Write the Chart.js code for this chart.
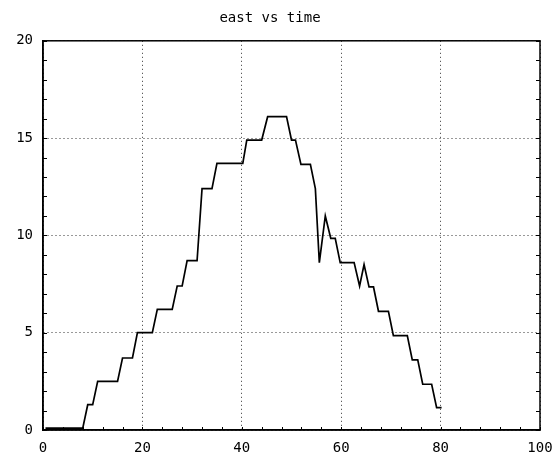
<!DOCTYPE html>
<html>
<head>
<meta charset="utf-8">
<script src="https://cdn.jsdelivr.net/npm/chart.js@4/dist/chart.umd.min.js"></script>
<style>
  html, body { margin: 0; padding: 0; background: #fff; }
  #wrap { width: 554px; height: 464px; }
</style>
</head>
<body>
<div id="wrap"><canvas id="myChart"></canvas></div>
<script>
const chartTitle = "east vs time";

// time values (x) and east values (y)
const timeValues = [
  0.5, 8, 9, 10, 11, 15, 16, 18, 19, 22, 23, 26, 27, 28, 29, 31, 32, 34, 35, 40.2,
  41, 44, 45.2, 49, 50, 50.8, 51.9, 53.8, 54.8, 55.6, 56.8, 57.9, 58.8, 59.8, 62.6,
  63.7, 64.6, 65.6, 66.5, 67.5, 69.5, 70.5, 73.3, 74.3, 75.4, 76.4, 78.2, 79.2, 80.2,
];
const eastValues = [
  0.1, 0.1, 1.3, 1.3, 2.5, 2.5, 3.7, 3.7, 5.0, 5.0, 6.2, 6.2, 7.4, 7.4, 8.7, 8.7, 12.4, 12.4, 13.7, 13.7,
  14.9, 14.9, 16.1, 16.1, 14.9, 14.9, 13.65, 13.65, 12.4, 8.6, 11.0, 9.85, 9.85, 8.6, 8.6,
  7.4, 8.5, 7.35, 7.35, 6.1, 6.1, 4.85, 4.85, 3.6, 3.6, 2.35, 2.35, 1.15, 1.15,
];

const xTicks = [0, 20, 40, 60, 80, 100];
const yTicks = [0, 5, 10, 15, 20];
const xMinorStep = 4;
const yMinorStep = 1;

const tickFont = { family: "DejaVu Sans Mono", size: 14 };

// box around the plot plus small inward minor ticks
const frameAndTicks = {
  id: "frameAndTicks",
  afterDraw(chart) {
    const { ctx, chartArea: a, scales } = chart;
    ctx.save();
    ctx.strokeStyle = "#000";
    ctx.setLineDash([]);
    ctx.lineWidth = 1.5;
    ctx.strokeRect(a.left, a.top, a.right - a.left, a.bottom - a.top);
    ctx.lineWidth = 1;
    ctx.beginPath();
    for (let v = 0; v <= 20; v += yMinorStep) {
      const py = Math.round(scales.y.getPixelForValue(v)) + 0.5;
      ctx.moveTo(a.left, py); ctx.lineTo(a.left + 4, py);
      ctx.moveTo(a.right, py); ctx.lineTo(a.right - 4, py);
    }
    for (let v = 0; v <= 100; v += xMinorStep) {
      const px = Math.round(scales.x.getPixelForValue(v)) + 0.5;
      ctx.moveTo(px, a.bottom); ctx.lineTo(px, a.bottom - 3);
    }
    ctx.stroke();
    ctx.restore();
  },
};

const ctx = document.querySelector("#myChart");
const myChart = new Chart(ctx, {
  type: "line",
  data: {
    datasets: [
      {
        data: timeValues.map((t, i) => ({ x: t, y: eastValues[i] })),
        borderColor: "#000",
        borderWidth: 1.7,
        pointRadius: 0,
        tension: 0,
        fill: false,
      },
    ],
  },
  options: {
    responsive: true,
    maintainAspectRatio: false,
    animation: false,
    layout: { padding: { top: 2, right: 14, left: 0, bottom: 4 } },
    plugins: {
      legend: { display: false },
      tooltip: { enabled: false },
      title: {
        display: true,
        text: chartTitle,
        color: "#000",
        font: { family: "DejaVu Sans Mono", size: 14, weight: "normal" },
        padding: { top: 8, bottom: 14 },
      },
    },
    scales: {
      x: {
        type: "linear",
        min: 0,
        max: 100,
        afterBuildTicks: (axis) => { axis.ticks = xTicks.map((v) => ({ value: v })); },
        afterFit: (axis) => { axis.height = 30; axis.paddingRight = 0; axis.paddingLeft = 0; },
        ticks: { color: "#000", font: tickFont, padding: 10, maxRotation: 0 },
        grid: { color: "#333", lineWidth: 1, drawTicks: false },
        border: { display: true, color: "#000", width: 1.5, dash: [1, 3] },
      },
      y: {
        type: "linear",
        min: 0,
        max: 20,
        afterBuildTicks: (axis) => { axis.ticks = yTicks.map((v) => ({ value: v })); },
        afterFit: (axis) => { axis.width = 43; axis.paddingTop = 0; axis.paddingBottom = 0; },
        ticks: { color: "#000", font: tickFont, padding: 10 },
        grid: { color: "#333", lineWidth: 1, drawTicks: false },
        border: { display: true, color: "#000", width: 1.5, dash: [1, 3] },
      },
    },
  },
  plugins: [frameAndTicks],
});
</script>
</body>
</html>
